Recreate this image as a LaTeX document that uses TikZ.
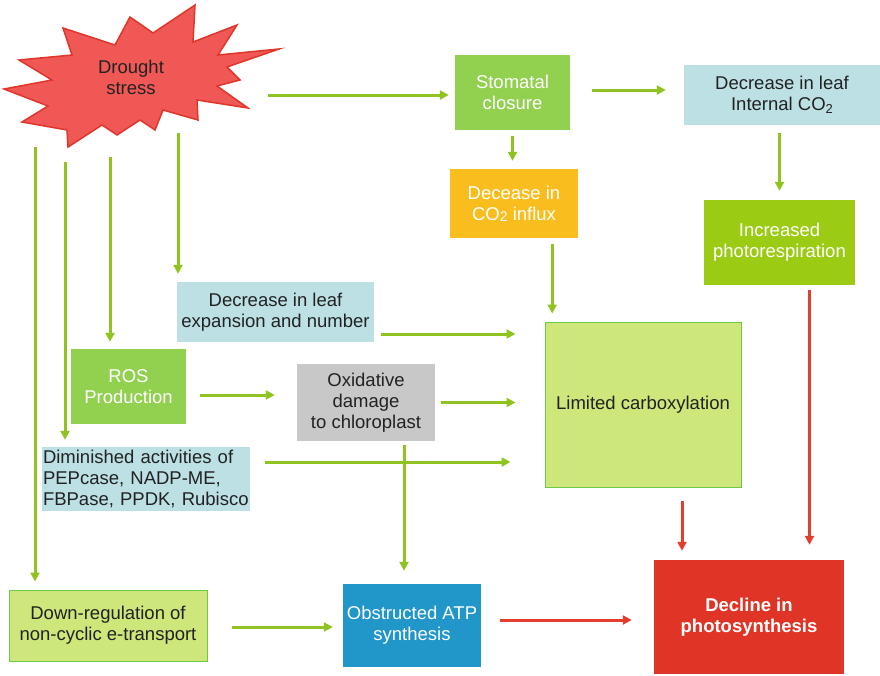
\documentclass[tikz,border=0pt]{standalone}
\usepackage{fontspec}
\setmainfont{Liberation Sans}
\usetikzlibrary{arrows.meta}

\definecolor{burstfill}{HTML}{EF5855}
\definecolor{burstline}{HTML}{E0352B}
\definecolor{leafgreen}{HTML}{92D050}
\definecolor{paleblue}{HTML}{BCE0E3}
\definecolor{amber}{HTML}{F9BE1E}
\definecolor{limegreen}{HTML}{9BCB12}
\definecolor{ashgrey}{HTML}{C8C8C8}
\definecolor{palelime}{HTML}{CDE77A}
\definecolor{limeedge}{HTML}{6DC94B}
\definecolor{oceanblue}{HTML}{2196C9}
\definecolor{alertred}{HTML}{E03426}
\definecolor{arrgreen}{HTML}{8FC31F}
\definecolor{arrred}{HTML}{E33E2E}
\definecolor{ink}{HTML}{222222}

\newcommand{\lowtwo}{\raisebox{-3pt}{\fontsize{13}{13}\selectfont 2}}

\begin{document}
\begin{tikzpicture}[x=1pt,y=-1pt,
  txt/.style={font=\fontsize{18.5}{21}\selectfont},
  box/.style={txt, inner sep=0pt, align=center, text=ink},
  wbox/.style={box, text=white},
  garr/.style={draw=arrgreen, line width=3pt, -{Triangle[length=9pt,width=9pt]}},
  rarr/.style={draw=arrred, line width=3pt, -{Triangle[length=9pt,width=9pt]}},
]
\useasboundingbox (0,0) rectangle (880,675);

% starburst behind the "Drought stress" label
\draw[fill=burstfill, draw=burstline, line width=1.5pt, line join=miter]
  (4,89) -- (52,80) -- (19,60) -- (72,55) -- (63,28) -- (115,45) -- (130,17)
  -- (153,33) -- (195,5) -- (193,42) -- (237,25) -- (218,55) -- (279,49)
  -- (227,67) -- (240,80) -- (217,86) -- (248,108) -- (197,100) -- (198,120)
  -- (163,110) -- (155,130) -- (140,120) -- (117,135) -- (102,125) -- (68,147)
  -- (67,130) -- (22,122) -- (48,106) -- cycle;
\node[box] (drought) at (131,77.5) {Drought\\stress};

% outlet points on the burst
\coordinate (ds-e)  at (268,95);
\coordinate (ds-v1) at (35,147);
\coordinate (ds-v2) at (65,162);
\coordinate (ds-v3) at (110,157);
\coordinate (ds-v4) at (178,133);

% boxes
\node[wbox, fill=leafgreen, minimum width=115pt, minimum height=75pt] (stomatal) at (512.5,92.5) {Stomatal\\closure};
\node[box, fill=paleblue, minimum width=196pt, minimum height=60pt] (intco2) at (782,95) {Decrease in leaf\\Internal CO\lowtwo};
\node[wbox, fill=amber, minimum width=128pt, minimum height=69pt] (decease) at (514,203.5)
  {Decease in\\CO\raisebox{-1pt}{\fontsize{14}{14}\selectfont 2} influx};
\node[wbox, fill=limegreen, minimum width=151pt, minimum height=85pt] (photoresp) at (779.5,242.5) {Increased\\photorespiration};
\node[box, fill=paleblue, minimum width=197pt, minimum height=60pt] (leafexp) at (275.5,312) {Decrease in leaf\\expansion and number};
\node[wbox, fill=leafgreen, minimum width=115pt, minimum height=75pt] (ros) at (128.5,386.5) {ROS\\Production};
\node[box, fill=ashgrey, minimum width=138pt, minimum height=77pt] (oxid) at (366,402.5) {Oxidative\\damage\\to chloroplast};
\node[box, fill=paleblue, align=left, text width=206pt, inner xsep=1pt, minimum height=64pt,
      execute at begin node={\hyphenpenalty=10000\exhyphenpenalty=10000}] (dimin) at (146,479)
  {Diminished activities of\\PEPcase, NADP-ME,\\FBPase, PPDK, Rubisco};
\node[box, fill=palelime, draw=limeedge, line width=1pt, minimum width=196pt, minimum height=165pt] (limited) at (643,404.5) {Limited carboxylation};
\node[box, fill=palelime, draw=limeedge, line width=1pt, minimum width=198pt, minimum height=71pt] (downreg) at (108,625.5) {Down-regulation of\\non-cyclic e-transport};
\node[wbox, fill=oceanblue, minimum width=138pt, minimum height=83pt] (obstructed) at (412,625.5) {Obstructed ATP\\synthesis};
\node[wbox, fill=alertred, minimum width=190pt, minimum height=114pt, font=\fontsize{18.5}{21}\selectfont\bfseries] (decline) at (749,617) {Decline in\\photosynthesis};

% connectors from the burst
\draw[garr, shorten >=6pt] (ds-e) -- (ds-e -| stomatal.west);
\draw[garr, shorten >=8pt] (ds-v1) -- (ds-v1 |- downreg.north);
\draw[garr, shorten >=7pt] (ds-v2) -- (ds-v2 |- dimin.north);
\draw[garr, shorten >=7pt] (ds-v3) -- (ds-v3 |- ros.north);
\draw[garr, shorten >=8pt] (ds-v4) -- (ds-v4 |- leafexp.north);

% upper chain
\draw[garr, shorten <=22pt, shorten >=18pt] ([yshift=2.5pt]stomatal.east) -- ([yshift=2.5pt]stomatal.east -| intco2.west);
\draw[garr, shorten <=6pt, shorten >=8pt] (stomatal.south) -- (stomatal.south |- decease.north);
\draw[garr, shorten <=8pt, shorten >=9pt] (photoresp.north |- intco2.south) -- (photoresp.north);
\draw[garr, shorten <=6pt, shorten >=8pt] ([xshift=-26pt]decease.south east) -- ([xshift=-26pt]decease.south east |- limited.north);

% into limited carboxylation
\draw[garr, shorten <=7pt, shorten >=29pt] ([yshift=-22pt]leafexp.east) -- ([yshift=-22pt]leafexp.east -| limited.west);
\draw[garr, shorten <=6pt, shorten >=29pt] (oxid.east) -- (oxid.east -| limited.west);
\draw[garr, shorten <=15pt, shorten >=34pt] ([yshift=17pt]dimin.east) -- ([yshift=17pt]dimin.east -| limited.west);

% middle and lower chain
\draw[garr, shorten <=14pt, shorten >=22pt] ([yshift=-8.5pt]ros.east) -- ([yshift=-8.5pt]ros.east -| oxid.west);
\draw[garr, shorten <=4pt, shorten >=13pt] ([xshift=38pt]oxid.south) -- ([xshift=38pt]oxid.south |- obstructed.north);
\draw[garr, shorten <=24pt, shorten >=10pt] ([yshift=-1.5pt]downreg.east) -- ([yshift=-1.5pt]downreg.east -| obstructed.west);

% into decline in photosynthesis
\draw[rarr, shorten <=5pt, shorten >=15pt] ([xshift=30pt]photoresp.south) -- ([xshift=30pt]photoresp.south |- decline.north);
\draw[rarr, shorten <=13pt, shorten >=9pt] ([xshift=39pt]limited.south) -- ([xshift=39pt]limited.south |- decline.north);
\draw[rarr, shorten <=19pt, shorten >=22pt] ([yshift=5.5pt]obstructed.east) -- ([yshift=5.5pt]obstructed.east -| decline.west);
\end{tikzpicture}
\end{document}
